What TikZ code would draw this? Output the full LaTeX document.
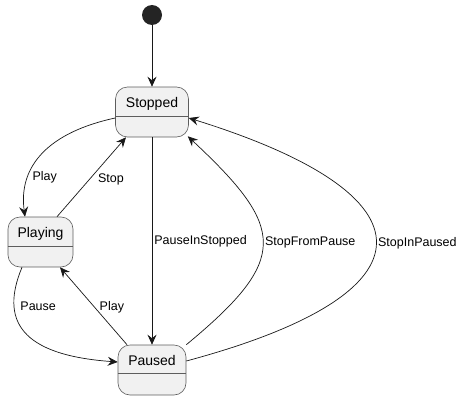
\documentclass[tikz,border=0pt]{standalone}
\usepackage{fontspec}
\setmainfont{Liberation Sans}
\usetikzlibrary{arrows.meta}

\definecolor{statefill}{HTML}{F1F1F1}
\definecolor{umlline}{HTML}{181818}

\begin{document}
\begin{tikzpicture}[x=1pt,y=1pt,
   state/.style={draw=umlline!70,fill=statefill,line width=0.6pt,rounded corners=12pt,
                 minimum height=50pt,inner sep=0pt},
   statename/.style={font=\fontsize{14}{16}\selectfont,inner sep=0pt,anchor=base},
   divider/.style={draw=umlline!70,line width=0.6pt},
   trans/.style={draw=umlline,line width=0.7pt,-{Stealth[length=10pt,width=9pt,inset=3.5pt]}},
   lbl/.style={font=\fontsize{12.5}{14}\selectfont,inner sep=2pt,anchor=west}]
   \useasboundingbox (0,0) rectangle (465,400);

   % initial point
   \node[circle,fill=umlline!95,minimum size=20pt,inner sep=0pt] (init) at (152,385) {};

   % states
   \node[state,minimum width=73pt] (stopped) at (152,288) {};
   \node[statename] (stoppedname) at ([yshift=-21pt]stopped.north) {Stopped};
   \draw[divider] ([yshift=-30pt]stopped.north west) -- ([yshift=-30pt]stopped.north east);

   \node[state,minimum width=65pt] (playing) at (40.5,158) {};
   \node[statename] (playingname) at ([yshift=-21pt]playing.north) {Playing};
   \draw[divider] ([yshift=-30pt]playing.north west) -- ([yshift=-30pt]playing.north east);

   \node[state,minimum width=68pt] (paused) at (152,30) {};
   \node[statename] (pausedname) at ([yshift=-21pt]paused.north) {Paused};
   \draw[divider] ([yshift=-29pt]paused.north west) -- ([yshift=-29pt]paused.north east);

   % transitions
   \draw[trans] (init) -- (stopped);
   \draw[trans] ([yshift=-6pt]stopped.west) .. controls (50,268) and (18,235)
      .. node[lbl,pos=0.72,xshift=2pt] (playlbl) {Play} ([xshift=-15.5pt]playing.north);
   \draw[trans] ([xshift=16.5pt]playing.north)
      -- node[lbl,pos=0.475,xshift=6pt] (stoplbl) {Stop} ([xshift=-26pt]stopped.south);
   \draw[trans] (stopped) -- node[lbl,pos=0.5] (pisl) {PauseInStopped} (paused);
   \draw[trans] ([xshift=-18.5pt]playing.south) .. controls (0,80) and (20,45)
      .. node[lbl,pos=0.27,xshift=4pt] (pauselbl) {Pause} ([yshift=8pt]paused.west);
   \draw[trans] ([xshift=-25pt]paused.north)
      -- node[lbl,pos=0.487,xshift=3pt] (replaylbl) {Play} ([xshift=19.5pt]playing.south);
   \draw[trans] (paused.north east) .. controls (290,141) and (286,172)
      .. node[lbl,pos=0.5] (sfpl) {StopFromPause} ([shift={(-1pt,1pt)}]stopped.south east);
   \draw[trans] ([yshift=9pt]paused.east) .. controls (440,107) and (437,205)
      .. node[lbl,pos=0.5] (sipl) {StopInPaused} ([yshift=-6pt]stopped.east);
\end{tikzpicture}
\end{document}
